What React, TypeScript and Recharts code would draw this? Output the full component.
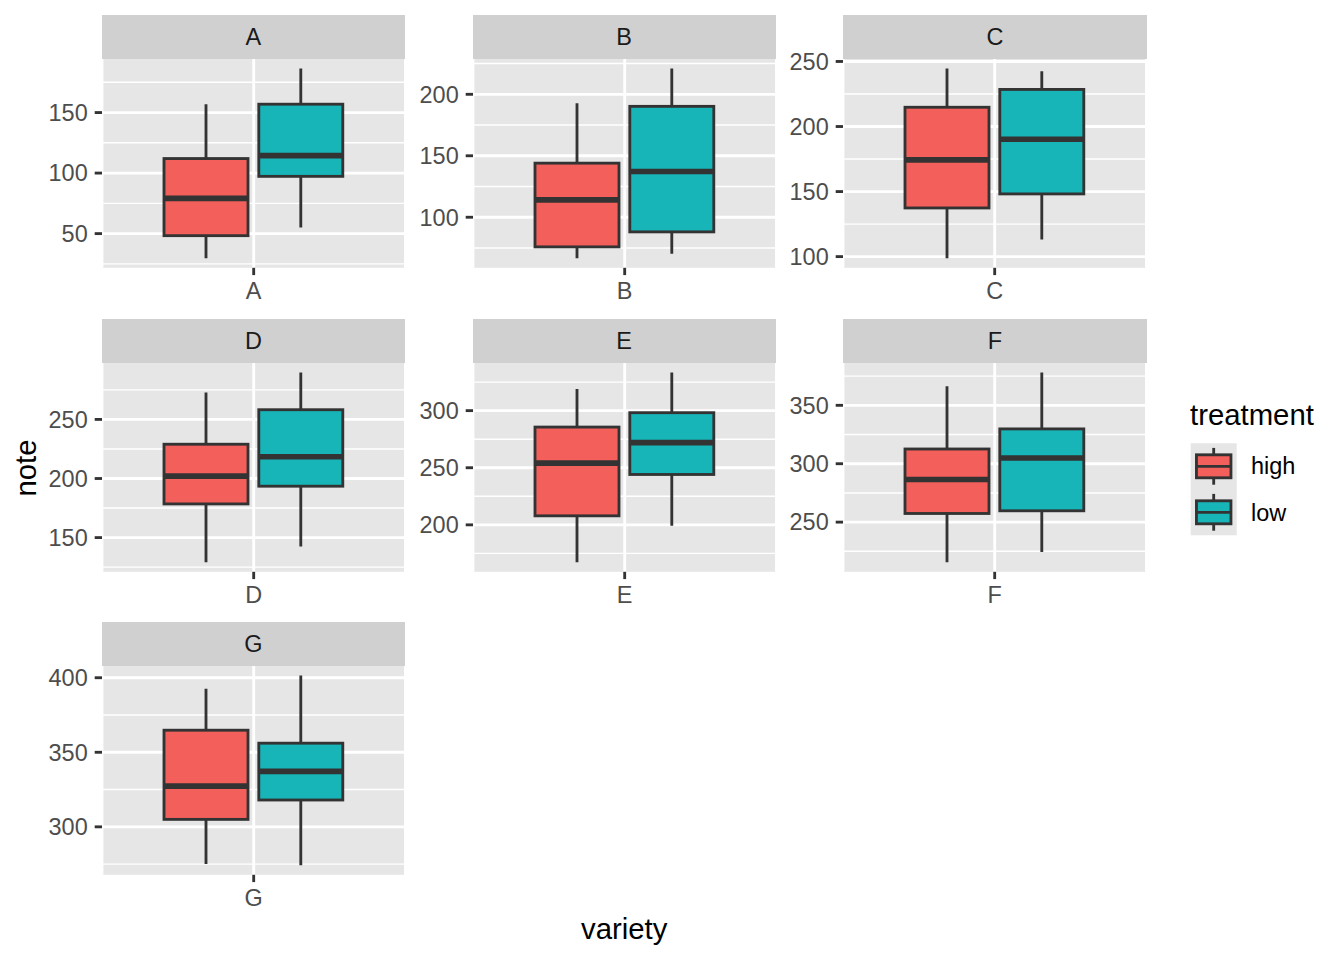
import React from 'react';
import { ComposedChart, Bar, XAxis, YAxis, CartesianGrid } from 'recharts';

const varieties = ['A', 'B', 'C', 'D', 'E', 'F', 'G'];
const treatments = ['high', 'low'];
const treatmentColors = ['#F35F5B', '#18B5B8'];

const highLower = [29.6, 66.6, 98.7, 129.1, 167.2, 215.6, 275.1];
const highQ1 = [48.3, 75.9, 137.4, 178.5, 207.9, 257.4, 305.0];
const highMedian = [79.1, 114.1, 174.3, 202.0, 254.0, 286.5, 327.3];
const highQ3 = [112.0, 144.0, 214.8, 229.0, 285.6, 312.6, 364.8];
const highUpper = [156.9, 192.7, 244.6, 272.7, 319.0, 366.3, 392.6];

const lowLower = [55.0, 70.4, 113.1, 142.4, 199.1, 224.5, 274.2];
const lowQ1 = [97.3, 88.1, 148.2, 193.5, 244.1, 259.7, 318.0];
const lowMedian = [114.4, 137.2, 190.2, 218.4, 272.0, 304.9, 337.2];
const lowQ3 = [156.9, 190.2, 228.5, 258.2, 298.2, 329.8, 356.1];
const lowUpper = [186.4, 221.0, 242.5, 289.7, 333.4, 378.1, 401.5];

const yTicks = [
  [50, 100, 150],
  [100, 150, 200],
  [100, 150, 200, 250],
  [150, 200, 250],
  [200, 250, 300],
  [250, 300, 350],
  [300, 350, 400],
];

const FONT = '"Liberation Sans", Arial, Helvetica, sans-serif';
const PANEL_BG = '#E6E6E6';
const STRIP_BG = '#D0D0D0';
const BOX_STROKE = '#333333';
const TEXT_AXIS = '#4D4D4D';
const TEXT_STRIP = '#1A1A1A';
const MAJOR_W = 2.85;
const MINOR_W = 1.42;
const SMALL_FONT = 23.47;
const BIG_FONT = 29.33;

const COL_LEFT0 = 101.7;
const COL_STEP = 370.8;
const ROW_TOP0 = 15;
const ROW_STEP = 303.5;
const PANEL_W = 303.4;
const STRIP_H = 44.4;
const PANEL_H = 208.8;
const Y_W = 75;
const X_H = 40;
const TOP_PAD = 24;

function BoxShape(props: any) {
  const { x, y, width, height, payload, statsKey, fill } = props;
  const s: number[] = payload[statsKey];
  const top = Math.min(y, y + height);
  const bot = Math.max(y, y + height);
  const lo = s[0];
  const hi = s[4];
  const pix = (v: number) => bot - ((v - lo) / (hi - lo)) * (bot - top);
  const cx = x + width / 2;
  return (
    <g>
      <line x1={cx} x2={cx} y1={pix(hi)} y2={pix(s[3])} stroke={BOX_STROKE} strokeWidth={MAJOR_W} />
      <line x1={cx} x2={cx} y1={pix(s[1])} y2={pix(lo)} stroke={BOX_STROKE} strokeWidth={MAJOR_W} />
      <rect
        x={x}
        y={pix(s[3])}
        width={width}
        height={pix(s[1]) - pix(s[3])}
        fill={fill}
        stroke={BOX_STROKE}
        strokeWidth={MAJOR_W}
      />
      <line x1={x} x2={x + width} y1={pix(s[2])} y2={pix(s[2])} stroke={BOX_STROKE} strokeWidth={MAJOR_W * 2} />
    </g>
  );
}

function Panel({ index }: { index: number }) {
  const col = index % 3;
  const row = Math.floor(index / 3);
  const left = COL_LEFT0 + col * COL_STEP;
  const stripTop = ROW_TOP0 + row * ROW_STEP;
  const hs = [highLower[index], highQ1[index], highMedian[index], highQ3[index], highUpper[index]];
  const ls = [lowLower[index], lowQ1[index], lowMedian[index], lowQ3[index], lowUpper[index]];
  const data = [
    {
      variety: varieties[index],
      high: [hs[0], hs[4]],
      low: [ls[0], ls[4]],
      highStats: hs,
      lowStats: ls,
    },
  ];
  const dMin = Math.min(hs[0], ls[0]);
  const dMax = Math.max(hs[4], ls[4]);
  const span = dMax - dMin;
  const domain = [dMin - 0.05 * span, dMax + 0.05 * span];
  const ticks = yTicks[index];
  const step = ticks[1] - ticks[0];
  const minors = [ticks[0] - step / 2, ...ticks.map((t) => t + step / 2)].filter(
    (v) => v > domain[0] && v < domain[1]
  );
  return (
    <>
      <div
        style={{
          position: 'absolute',
          left,
          top: stripTop,
          width: PANEL_W,
          height: STRIP_H,
          background: STRIP_BG,
          color: TEXT_STRIP,
          fontFamily: FONT,
          fontSize: SMALL_FONT,
          lineHeight: `${STRIP_H + 1.5}px`,
          textAlign: 'center',
        }}
      >
        {varieties[index]}
      </div>
      <div style={{ position: 'absolute', left: left - Y_W, top: stripTop + STRIP_H - TOP_PAD }}>
        <ComposedChart
          width={Y_W + PANEL_W}
          height={PANEL_H + X_H + TOP_PAD}
          data={data}
          margin={{ top: TOP_PAD, right: 0, bottom: 0, left: 0 }}
          barSize={84}
          barGap={10.8}
          style={{ fontFamily: FONT }}
        >
          <CartesianGrid
            fill={PANEL_BG}
            stroke="#FFFFFF"
            strokeWidth={MINOR_W}
            vertical={false}
            horizontalValues={minors}
          />
          <CartesianGrid
            fill="none"
            stroke="#FFFFFF"
            strokeWidth={MAJOR_W}
            horizontalValues={ticks}
          />
          <XAxis
            dataKey="variety"
            type="category"
            height={X_H}
            axisLine={false}
            tickSize={7.3}
            tickMargin={7}
            tickLine={{ stroke: BOX_STROKE, strokeWidth: MAJOR_W }}
            tick={{ fill: TEXT_AXIS, fontSize: SMALL_FONT, fontFamily: FONT }}
            interval={0}
          />
          <YAxis
            type="number"
            domain={domain}
            ticks={ticks}
            width={Y_W}
            axisLine={false}
            tickSize={7.3}
            tickMargin={7}
            tickLine={{ stroke: BOX_STROKE, strokeWidth: MAJOR_W }}
            tick={{ fill: TEXT_AXIS, fontSize: SMALL_FONT, fontFamily: FONT }}
            interval={0}
            allowDataOverflow
          />
          {treatments.map((t, i) => (
            <Bar
              key={t}
              dataKey={t}
              isAnimationActive={false}
              shape={(p: any) => <BoxShape {...p} statsKey={`${t}Stats`} fill={treatmentColors[i]} />}
            />
          ))}
        </ComposedChart>
      </div>
    </>
  );
}

function LegendKey({ y0, fill }: { y0: number; fill: string }) {
  const x0 = 1190.7;
  const k = 46;
  return (
    <g>
      <line x1={x0 + k / 2} x2={x0 + k / 2} y1={y0 + 0.1 * k} y2={y0 + 0.25 * k} stroke={BOX_STROKE} strokeWidth={MAJOR_W} />
      <line x1={x0 + k / 2} x2={x0 + k / 2} y1={y0 + 0.75 * k} y2={y0 + 0.9 * k} stroke={BOX_STROKE} strokeWidth={MAJOR_W} />
      <rect x={x0 + 0.125 * k} y={y0 + 0.25 * k} width={0.75 * k} height={0.5 * k} fill={fill} stroke={BOX_STROKE} strokeWidth={MAJOR_W} />
      <line x1={x0 + 0.125 * k} x2={x0 + 0.875 * k} y1={y0 + 0.5 * k} y2={y0 + 0.5 * k} stroke={BOX_STROKE} strokeWidth={MAJOR_W} />
    </g>
  );
}

export default function App() {
  return (
    <div style={{ position: 'absolute', left: 0, top: 0, width: 1344, height: 960, background: '#FFFFFF', overflow: 'hidden' }}>
      {varieties.map((v, i) => (
        <Panel key={v} index={i} />
      ))}
      <svg width={1344} height={960} style={{ position: 'absolute', left: 0, top: 0, pointerEvents: 'none' }}>
        <text x={624.2} y={939} textAnchor="middle" fontFamily={FONT} fontSize={BIG_FONT} fill="#000000">
          variety
        </text>
        <text
          x={36}
          y={468}
          textAnchor="middle"
          fontFamily={FONT}
          fontSize={BIG_FONT}
          fill="#000000"
          transform="rotate(-90 36 468)"
        >
          note
        </text>
        <text x={1190} y={425} fontFamily={FONT} fontSize={BIG_FONT} fill="#000000">
          treatment
        </text>
        <rect x={1190.7} y={443.3} width={46} height={92} fill={PANEL_BG} />
        {treatments.map((t, i) => (
          <g key={t}>
            <LegendKey y0={443.3 + i * 46} fill={treatmentColors[i]} />
            <text x={1251} y={474.3 + i * 46.4} fontFamily={FONT} fontSize={SMALL_FONT} fill="#000000">
              {t}
            </text>
          </g>
        ))}
      </svg>
    </div>
  );
}
